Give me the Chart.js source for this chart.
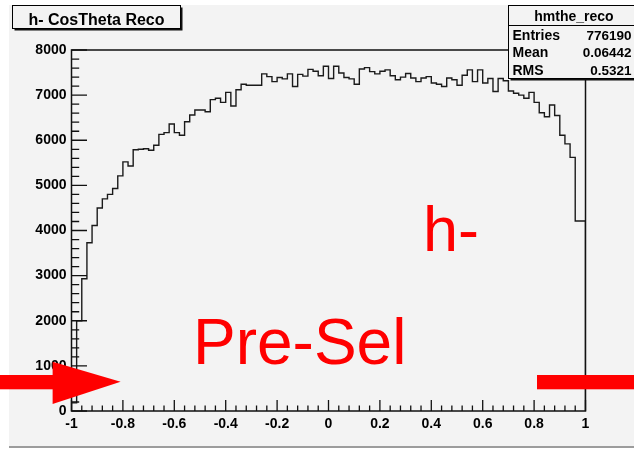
<!DOCTYPE html>
<html>
<head>
<meta charset="utf-8">
<script src="https://cdn.jsdelivr.net/npm/chart.js@4"></script>
<style>
  body { margin: 0; background: #fff; }
  #wrap { position: relative; width: 634px; height: 458px; overflow: hidden; }
  #pad { position: absolute; left: 9px; top: 5px; width: 625px; height: 441px;
         background: #f3f3f3; border-bottom: 2px solid #9c9c9c; }
  #chart { position: absolute; left: 0; top: 0; }
  #notes { position: absolute; left: 0; top: 0; pointer-events: none; }
  #notes text { font-family: "Liberation Sans", Arial, sans-serif; }
</style>
</head>
<body>
<div id="wrap">
  <div id="pad"></div>
  <canvas id="chart" width="634" height="458"></canvas>
  <svg id="notes" width="634" height="458"></svg>
</div>
<script>
// hmthe_reco: 100 bins over cos(theta) in [-1, 1]
var xMin = -1;
var xMax = 1;
var counts = [
	60, 180, 2000, 2930, 3730, 4110, 4500, 4700, 4800, 4930,
	5210, 5520, 5430, 5790, 5800, 5810, 5780, 5890, 6130, 6170,
	6360, 6170, 6110, 6410, 6560, 6670, 6670, 6630, 6900, 6930,
	6840, 7060, 6760, 7120, 7240, 7220, 7220, 7220, 7470, 7410,
	7300, 7390, 7360, 7470, 7190, 7460, 7420, 7570, 7530, 7430,
	7640, 7370, 7640, 7490, 7390, 7360, 7240, 7580, 7610, 7520,
	7470, 7530, 7560, 7430, 7340, 7400, 7480, 7380, 7300, 7380,
	7410, 7270, 7240, 7190, 7380, 7340, 7220, 7440, 7560, 7300,
	7560, 7270, 7370, 7080, 7370, 7320, 7090, 7040, 7000, 6930,
	7060, 6840, 6610, 6520, 6780, 6550, 6110, 5920, 5620, 4210
];

var histTitle = 'h- CosTheta Reco';
var statsName = 'hmthe_reco';
var statsLabels = ['Entries', 'Mean', 'RMS'];
var statsValues = ['776190', '0.06442', '0.5321'];
var tagText = 'h-';
var cutText = 'Pre-Sel';

// step outline with bin edges, closed down to zero at both ends
var binWidth = (xMax - xMin) / counts.length;
var outline = [{x: xMin, y: 0}];
counts.forEach(function(c, i) {
	outline.push({x: xMin + i * binWidth, y: c});
});
outline.push({x: xMax, y: counts[counts.length - 1]});
outline.push({x: xMax, y: 0});

var tickFont = {family: 'Liberation Sans', weight: 'bold', size: 14};

// ROOT style frame with ticks pointing into the pad
var rootFrame = {
	id: 'rootFrame',
	afterDatasetsDraw: function(chart) {
		var ctx = chart.ctx;
		var a = chart.chartArea;
		var xs = chart.scales.x;
		var ys = chart.scales.y;
		ctx.save();
		ctx.strokeStyle = '#111';
		ctx.lineWidth = 1.3;
		ctx.beginPath();
		for (var k = 0; k <= 50; k++) {
			var px = xs.getPixelForValue(xMin + k * 0.04);
			var len = k % 5 === 0 ? 11 : 5.5;
			ctx.moveTo(px, a.bottom);
			ctx.lineTo(px, a.bottom - len);
		}
		for (var j = 0; j <= 40; j++) {
			var py = ys.getPixelForValue(j * 200);
			var ylen = j % 5 === 0 ? 15.5 : 7.7;
			ctx.moveTo(a.left, py);
			ctx.lineTo(a.left + ylen, py);
		}
		ctx.stroke();
		ctx.lineWidth = 1.5;
		ctx.strokeRect(a.left, a.top, a.right - a.left, a.bottom - a.top);
		ctx.restore();
	}
};

var ctx = document.getElementById('chart').getContext('2d');
var chart = new Chart(ctx, {
	type: 'line',
	data: {
		datasets: [{
			label: statsName,
			data: outline,
			stepped: 'after',
			borderColor: '#1a1a1a',
			borderWidth: 1.4,
			pointRadius: 0,
			fill: false
		}]
	},
	options: {
		responsive: false,
		animation: false,
		layout: {padding: {left: 0, top: 50, right: 48.5, bottom: 0}},
		plugins: {legend: {display: false}, tooltip: {enabled: false}},
		scales: {
			x: {
				type: 'linear',
				min: xMin,
				max: xMax,
				grid: {display: false, drawTicks: false},
				border: {display: false},
				ticks: {
					stepSize: 0.2,
					autoSkip: false,
					maxRotation: 0,
					padding: 5,
					color: '#000',
					font: tickFont,
					callback: function(v) { return String(Math.round(v * 10) / 10); }
				},
				afterFit: function(s) { s.height = 47; }
			},
			y: {
				type: 'linear',
				min: 0,
				max: 8000,
				grid: {display: false, drawTicks: false},
				border: {display: false},
				ticks: {
					stepSize: 1000,
					padding: 5,
					color: '#000',
					font: tickFont,
					callback: function(v) { return String(v); }
				},
				afterFit: function(s) { s.width = 71.5; }
			}
		}
	},
	plugins: [rootFrame]
});

// title box, stats box and the red notes on top of the pad
var NS = 'http://www.w3.org/2000/svg';
var svg = document.getElementById('notes');
function add(tag, attrs, text) {
	var el = document.createElementNS(NS, tag);
	for (var k in attrs) el.setAttribute(k, attrs[k]);
	if (text !== undefined) el.textContent = text;
	svg.appendChild(el);
	return el;
}

add('rect', {x: 14.5, y: 7.5, width: 168, height: 23, fill: '#111'});
add('rect', {x: 12.5, y: 5.5, width: 168, height: 23, fill: '#f3f3f3', stroke: '#000', 'stroke-width': 1});
add('text', {x: 96.5, y: 24.5, 'text-anchor': 'middle', 'font-size': 16, 'font-weight': 'bold', fill: '#000'}, histTitle);

add('rect', {x: 510.5, y: 7.5, width: 130, height: 73, fill: '#111'});
add('rect', {x: 508.5, y: 5.5, width: 130, height: 73, fill: '#f3f3f3', stroke: '#000', 'stroke-width': 1});
add('line', {x1: 508.5, y1: 25.5, x2: 640, y2: 25.5, stroke: '#000', 'stroke-width': 1});
add('text', {x: 574, y: 20.5, 'text-anchor': 'middle', 'font-size': 14, 'font-weight': 'bold', fill: '#000'}, statsName);
statsLabels.forEach(function(lab, i) {
	var base = 39.5 + i * 17.8;
	add('text', {x: 512.5, y: base, 'font-size': 14, 'font-weight': 'bold', fill: '#000'}, lab);
	add('text', {x: 631.5, y: base, 'text-anchor': 'end', 'font-size': 13.5, 'font-weight': 'bold', fill: '#000'}, statsValues[i]);
});

add('text', {x: 423, y: 251, 'font-size': 63, fill: '#ff0000'}, tagText);
add('text', {x: 193, y: 363.5, 'font-size': 64, fill: '#ff0000'}, cutText);

add('rect', {x: 0, y: 375, width: 53, height: 14.3, fill: '#ff0000'});
add('polygon', {points: '52.6,361.7 52.6,404 120.6,381.7', fill: '#ff0000'});
add('rect', {x: 537, y: 375, width: 97, height: 14.3, fill: '#ff0000'});
</script>
</body>
</html>
